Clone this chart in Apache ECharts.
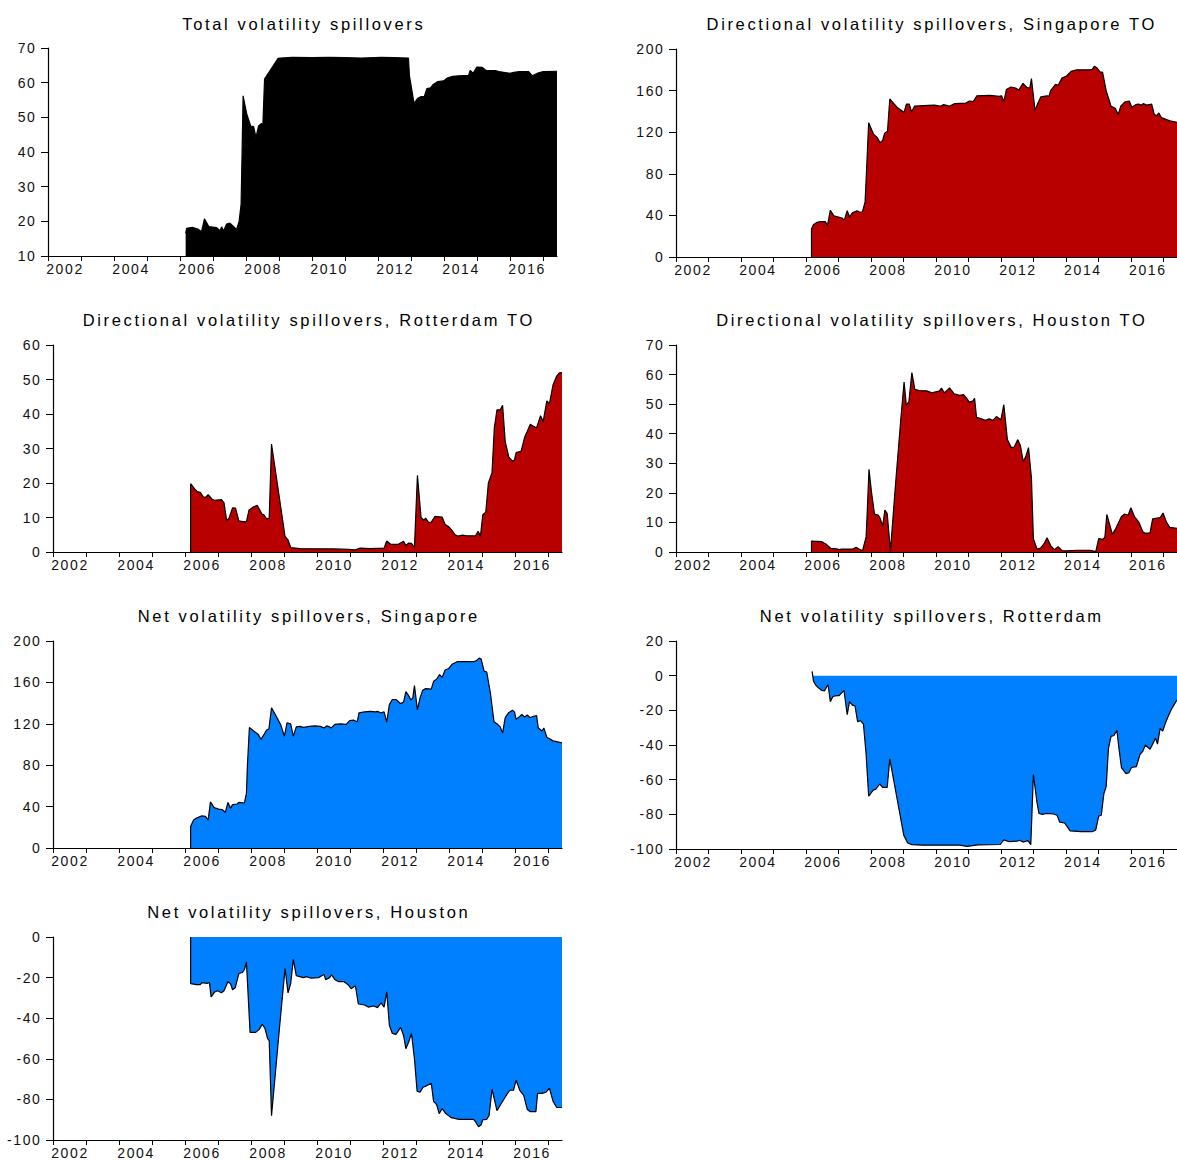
<!DOCTYPE html>
<html>
<head>
<meta charset="utf-8">
<script src="https://cdn.jsdelivr.net/npm/echarts@6/dist/echarts.min.js"></script>
<style>
html,body{margin:0;padding:0;background:#fff;}
#chart{width:1177px;height:1160px;}
</style>
</head>
<body>
<div id="chart"></div>
<script>
// ---------- tick labels ----------
const yearTicks = [2002,2003,2004,2005,2006,2007,2008,2009,2010,2011,2012,2013,2014,2015,2016,2017];
const yearLabels = [2002,2004,2006,2008,2010,2012,2014,2016];
const xStart = 2002;
const xEnd = 2017.42;

const titles = [
  'Total volatility spillovers',
  'Directional volatility spillovers, Singapore TO',
  'Directional volatility spillovers, Rotterdam TO',
  'Directional volatility spillovers, Houston TO',
  'Net volatility spillovers, Singapore',
  'Net volatility spillovers, Rotterdam',
  'Net volatility spillovers, Houston'
];

// ---------- series values: [year, value] ----------
const totalSpill = [
  [2006.17,16.5],[2006.2,18.0],[2006.37,18.3],[2006.54,17.8],[2006.65,17.0],[2006.74,20.7],[2006.87,18.5],
  [2007.1,18.2],[2007.21,17.3],[2007.26,18.4],[2007.32,17.2],[2007.41,19.2],[2007.51,19.5],[2007.62,18.5],
  [2007.71,17.6],[2007.79,20.0],[2007.85,25],[2007.88,40],[2007.91,56.2],[2008.02,51],[2008.14,47.5],
  [2008.23,47.3],[2008.3,44.2],[2008.38,47.5],[2008.46,48.2],[2008.51,48],[2008.56,61],[2008.97,67],
  [2009.05,67.1],[2009.39,67.3],[2010.0,67.2],[2010.5,67.3],[2011.0,67.2],[2011.5,67.1],[2012.08,67.3],
  [2012.5,67.2],[2012.92,67.1],[2012.95,62],[2013.09,54],[2013.2,55.5],[2013.31,56],[2013.4,56],
  [2013.48,58.3],[2013.59,58.5],[2013.67,59.5],[2013.81,60.3],[2013.98,60.5],[2014.09,61.3],[2014.26,61.8],
  [2014.43,62],[2014.74,62.1],[2014.79,63.5],[2014.88,62.7],[2014.99,64.5],[2015.16,64.4],[2015.27,63.5],
  [2015.55,63.5],[2015.66,63.2],[2016.0,62.7],[2016.11,63],[2016.28,63.2],[2016.56,63.2],[2016.67,62],
  [2016.84,62.8],[2017.0,63.2],[2017.42,63.3]
];

const singaporeTo = [
  [2006.17,0],[2006.17,27],[2006.23,31],[2006.32,33],[2006.43,34],[2006.6,34],[2006.66,30],[2006.75,45],
  [2006.86,39.5],[2007.0,38.5],[2007.11,37.5],[2007.18,35.5],[2007.27,44.5],[2007.34,38.5],[2007.43,42.5],
  [2007.57,44.5],[2007.66,43],[2007.74,43.5],[2007.82,53],[2007.86,80],[2007.93,129],[2008.08,118],
  [2008.19,115],[2008.28,110],[2008.36,112],[2008.42,119],[2008.51,121],[2008.58,152],[2008.8,144],
  [2009.02,139],[2009.09,147],[2009.18,147],[2009.25,139.5],[2009.34,145],[2009.61,145.5],[2009.95,146],
  [2010.13,145],[2010.24,146.5],[2010.41,145],[2010.58,147.5],[2010.92,148],[2011.03,150],[2011.15,149.5],
  [2011.26,155],[2011.66,155.5],[2011.94,154.5],[2012.02,155],[2012.09,149.5],[2012.17,161],[2012.31,163.5],
  [2012.45,162.5],[2012.55,160.5],[2012.68,167],[2012.8,163],[2012.89,162.5],[2012.94,171.5],[2013.05,141],
  [2013.14,148],[2013.23,154],[2013.42,155],[2013.48,154.5],[2013.53,160],[2013.68,166],[2013.76,165],
  [2013.88,172],[2014.02,174],[2014.16,178.5],[2014.33,180],[2014.73,180],[2014.81,180.5],[2014.88,183.5],
  [2014.95,182],[2015.05,178],[2015.13,177.5],[2015.24,160],[2015.39,145],[2015.52,143],[2015.61,137],
  [2015.69,145],[2015.81,149],[2015.95,150],[2016.03,144],[2016.15,146.5],[2016.23,147],[2016.32,146],
  [2016.38,147.5],[2016.49,146],[2016.64,147],[2016.72,137],[2016.8,136],[2016.86,138.5],[2016.94,134],
  [2017.2,131],[2017.42,129.5]
];

const rotterdamTo = [
  [2006.17,0],[2006.17,19.8],[2006.29,18.3],[2006.37,17.5],[2006.46,17.3],[2006.55,16],[2006.62,15.8],
  [2006.7,16.6],[2006.82,15.3],[2006.9,15],[2007.1,15.2],[2007.18,14.3],[2007.26,9.2],[2007.33,9.7],
  [2007.44,12.8],[2007.53,12.7],[2007.63,9],[2007.74,8.8],[2007.86,8.8],[2007.94,12.2],[2008.06,13],
  [2008.19,13.5],[2008.33,11],[2008.39,10.8],[2008.47,9.6],[2008.55,9.8],[2008.62,31.3],[2009.03,4.5],
  [2009.12,3.5],[2009.2,1.3],[2009.48,1.0],[2010.49,0.9],[2010.94,0.8],[2011.16,0.6],[2011.29,1.1],
  [2011.61,1.0],[2012.03,1.1],[2012.11,3.2],[2012.22,2.3],[2012.45,2.2],[2012.62,3.1],[2012.69,1.9],
  [2012.78,2.6],[2012.86,2.5],[2012.95,1.3],[2013.04,22.2],[2013.15,10],[2013.23,9.2],[2013.29,9.8],
  [2013.38,8.5],[2013.46,8.7],[2013.57,10.3],[2013.79,10.1],[2013.88,8],[2013.99,7.3],[2014.07,6.5],
  [2014.18,5],[2014.27,4.6],[2014.41,4.9],[2014.52,4.7],[2014.8,4.7],[2014.88,6],[2014.95,4.6],
  [2015.02,10.8],[2015.11,11.5],[2015.19,20],[2015.3,23],[2015.37,36],[2015.45,41.2],[2015.55,41.2],
  [2015.62,42.5],[2015.7,32],[2015.81,27.5],[2015.92,26.3],[2015.98,26.7],[2016.03,28.8],[2016.18,29.2],
  [2016.29,33.3],[2016.37,35],[2016.46,37],[2016.54,36.5],[2016.65,36],[2016.77,39.5],[2016.85,37.8],
  [2016.96,43.8],[2017.04,43],[2017.15,48.5],[2017.26,51],[2017.34,51.9],[2017.42,52]
];

const houstonTo = [
  [2006.17,0],[2006.17,3.7],[2006.49,3.5],[2006.6,2.8],[2006.77,1.2],[2006.94,1.1],[2007.02,0.8],
  [2007.11,1.0],[2007.45,1.0],[2007.54,1.6],[2007.62,1.1],[2007.74,0.4],[2007.85,5],[2007.88,12],
  [2007.94,28],[2008.02,20],[2008.11,12.8],[2008.22,12.5],[2008.28,11.5],[2008.36,8.7],[2008.43,14.2],
  [2008.5,13],[2008.6,0.3],[2008.75,22],[2008.92,45],[2009.02,57.5],[2009.09,49.5],[2009.17,51],
  [2009.26,60.7],[2009.35,55],[2009.49,54.6],[2009.71,54.5],[2009.88,53.8],[2010.11,54.5],[2010.17,55.4],
  [2010.26,53.8],[2010.42,55.5],[2010.56,53.5],[2010.73,53],[2010.85,53.2],[2010.96,51.8],[2011.02,50.7],
  [2011.13,51],[2011.19,52],[2011.25,45.5],[2011.41,45],[2011.52,44.5],[2011.64,45],[2011.75,44.5],
  [2011.86,45.8],[2012.0,44.7],[2012.09,49.8],[2012.2,38],[2012.32,35.3],[2012.41,35.5],[2012.52,38],
  [2012.6,36],[2012.69,30.5],[2012.77,32.5],[2012.85,35.3],[2012.94,25],[2013.0,4.5],[2013.11,1.0],
  [2013.22,1.3],[2013.34,3.0],[2013.42,4.8],[2013.54,2.0],[2013.65,0.8],[2013.76,1.8],[2013.88,0.5],
  [2014.01,0.4],[2014.35,0.6],[2014.75,0.6],[2014.92,0.1],[2015.01,4.5],[2015.14,4.3],[2015.2,5],
  [2015.26,12.7],[2015.43,6],[2015.54,8],[2015.71,12],[2015.8,12.8],[2015.92,12.5],[2016.0,15],
  [2016.11,12],[2016.25,10],[2016.37,6.8],[2016.45,6.3],[2016.59,6.5],[2016.67,11.2],[2016.9,11.6],
  [2016.99,13.2],[2017.1,10],[2017.2,8.3],[2017.42,8]
];

const netSingapore = [
  [2006.17,0],[2006.17,21],[2006.26,27],[2006.35,29],[2006.51,31],[2006.62,30.5],[2006.7,27],[2006.77,44.5],
  [2006.88,39],[2007.02,37.5],[2007.13,37],[2007.22,34.5],[2007.3,44],[2007.38,38.5],[2007.44,42],
  [2007.58,42.5],[2007.63,44],[2007.8,43.5],[2007.86,53],[2007.89,80],[2007.95,116.5],[2008.08,113],
  [2008.21,110],[2008.3,105],[2008.38,109],[2008.47,114],[2008.54,115],[2008.62,135.5],[2008.75,128],
  [2008.9,119],[2009.01,108],[2009.09,121],[2009.2,120],[2009.28,108],[2009.37,117],[2009.48,117.5],
  [2009.59,116.5],[2009.76,117.5],[2009.93,118],[2010.1,117.5],[2010.21,116],[2010.29,118],[2010.38,117],
  [2010.43,116],[2010.54,119.5],[2010.71,120],[2010.88,119.5],[2010.99,123],[2011.1,123.5],[2011.22,122],
  [2011.27,130.5],[2011.44,131.5],[2011.61,132],[2011.78,131.5],[2011.83,132],[2011.94,130.5],[2012.03,131.5],
  [2012.11,121.5],[2012.19,138.5],[2012.28,143.5],[2012.39,143.5],[2012.53,139.5],[2012.62,141],[2012.69,151],
  [2012.78,147],[2012.84,143],[2012.9,145],[2012.95,157],[2013.04,133.5],[2013.12,145],[2013.2,152.5],
  [2013.29,154],[2013.46,153.5],[2013.53,161],[2013.62,163],[2013.71,167.5],[2013.79,165],[2013.88,172],
  [2013.99,173.5],[2014.09,177.5],[2014.24,180],[2014.74,180],[2014.83,181],[2014.91,183.5],[2014.97,182.5],
  [2015.06,171],[2015.14,170],[2015.25,150],[2015.36,122],[2015.47,119.5],[2015.55,117],[2015.62,111],
  [2015.7,126],[2015.81,131],[2015.92,133],[2015.98,131.5],[2016.03,124.5],[2016.12,126.5],[2016.2,129],
  [2016.29,126.5],[2016.37,128.5],[2016.45,126],[2016.54,127],[2016.65,128],[2016.7,116],[2016.82,113],
  [2016.87,116],[2016.96,107],[2017.15,103.5],[2017.42,101.5]
];

const netRotterdam = [
  [2006.19,2.5],[2006.23,-3],[2006.3,-5.5],[2006.38,-7],[2006.49,-8.5],[2006.57,-8.8],[2006.68,-5],
  [2006.75,-15],[2006.83,-12],[2006.94,-11.5],[2007.02,-11.5],[2007.17,-8.5],[2007.27,-22.5],[2007.34,-15],
  [2007.43,-17],[2007.51,-17.5],[2007.59,-26.5],[2007.68,-26],[2007.77,-28],[2007.85,-45],[2007.93,-69.5],
  [2008.07,-66],[2008.15,-65.5],[2008.27,-62.5],[2008.36,-64.5],[2008.5,-64.5],[2008.58,-48],[2009.01,-92],
  [2009.13,-96.5],[2009.26,-97.5],[2009.6,-97.8],[2010.73,-97.8],[2010.96,-98.5],[2011.3,-97.6],
  [2011.98,-97.4],[2012.09,-94.7],[2012.26,-95.8],[2012.49,-95.5],[2012.58,-95],[2012.68,-96],
  [2012.83,-95.2],[2012.92,-97.5],[2013.0,-57],[2013.11,-73],[2013.17,-79.5],[2013.28,-80],[2013.4,-79.5],
  [2013.62,-79.8],[2013.73,-80.5],[2013.81,-84.5],[2013.96,-85],[2014.13,-89.5],[2014.47,-90],[2014.81,-90],
  [2014.92,-89],[2015.01,-81],[2015.09,-80.5],[2015.17,-68],[2015.24,-64],[2015.31,-42],[2015.39,-35],
  [2015.48,-34.5],[2015.57,-31.5],[2015.62,-40],[2015.71,-53],[2015.85,-56.5],[2015.94,-56],[2016.02,-53],
  [2016.17,-52.5],[2016.28,-45.5],[2016.37,-43.5],[2016.45,-40],[2016.59,-42.5],[2016.67,-39.5],
  [2016.76,-36],[2016.82,-39.5],[2016.9,-30.5],[2016.98,-32],[2017.07,-27],[2017.16,-23],[2017.26,-19],[2017.42,-14]
];

const netHouston = [
  [2006.17,0],[2006.17,-23],[2006.35,-23.5],[2006.46,-23.5],[2006.51,-22.5],[2006.68,-22.8],[2006.74,-22.5],
  [2006.79,-29.5],[2006.9,-27],[2006.99,-26.5],[2007.1,-27.5],[2007.18,-26.5],[2007.3,-22],[2007.38,-23],
  [2007.44,-26],[2007.52,-25],[2007.63,-18],[2007.74,-17.5],[2007.8,-16],[2007.86,-12.3],[2007.97,-47],
  [2008.14,-47],[2008.25,-45.5],[2008.34,-43],[2008.42,-45],[2008.5,-50],[2008.55,-51],[2008.62,-88],
  [2008.86,-45],[2009.03,-15.5],[2009.12,-27.5],[2009.2,-23],[2009.28,-11],[2009.37,-19],[2009.48,-19.5],
  [2009.59,-20],[2009.68,-19.5],[2009.82,-20.3],[2010.04,-20],[2010.21,-18.5],[2010.26,-21],[2010.38,-20],
  [2010.44,-18.5],[2010.54,-21],[2010.66,-22],[2010.82,-22],[2010.94,-23.5],[2011.03,-25.5],[2011.16,-24],
  [2011.25,-33],[2011.44,-33.5],[2011.55,-34.5],[2011.72,-34],[2011.83,-34.8],[2011.94,-32.5],[2012.03,-34.5],
  [2012.11,-27],[2012.19,-43.5],[2012.28,-47.5],[2012.39,-48],[2012.53,-44.5],[2012.62,-48.5],[2012.69,-55],
  [2012.78,-51.5],[2012.86,-47.5],[2012.95,-60],[2013.03,-76],[2013.12,-76.5],[2013.21,-74],[2013.29,-73.5],
  [2013.46,-72],[2013.53,-81],[2013.62,-82.5],[2013.7,-87],[2013.79,-84.5],[2013.9,-87],[2014.07,-89],
  [2014.3,-89.8],[2014.74,-89.8],[2014.8,-91],[2014.89,-93.5],[2014.97,-92.5],[2015.02,-90],[2015.14,-89.8],
  [2015.21,-88],[2015.3,-75],[2015.45,-85.5],[2015.58,-82],[2015.75,-77.5],[2015.84,-75.5],[2015.95,-75.5],
  [2016.03,-70.5],[2016.14,-75.5],[2016.26,-78],[2016.37,-85],[2016.45,-86],[2016.63,-86],[2016.68,-77],
  [2016.82,-77],[2016.93,-76.5],[2017.04,-74.5],[2017.15,-81],[2017.26,-84],[2017.42,-84]
];

// ---------- layout / style ----------
const BLACK = '#000000', RED = '#B80000', BLUE = '#0080FF';
const FONT = "'Liberation Sans', Arial, Helvetica, sans-serif";
const PW = 509;

const panels = [
  {title: titles[0], data: totalSpill,   color: BLACK, yMin: 10,   yMax: 70,  yStep: 10, left: 48,  top: 48,  height: 208, ty: 24},
  {title: titles[1], data: singaporeTo,  color: RED,   yMin: 0,    yMax: 200, yStep: 40, left: 676, top: 49,  height: 208, ty: 24},
  {title: titles[2], data: rotterdamTo,  color: RED,   yMin: 0,    yMax: 60,  yStep: 10, left: 53,  top: 345, height: 207, ty: 320},
  {title: titles[3], data: houstonTo,    color: RED,   yMin: 0,    yMax: 70,  yStep: 10, left: 676, top: 345, height: 207, ty: 320},
  {title: titles[4], data: netSingapore, color: BLUE,  yMin: 0,    yMax: 200, yStep: 40, left: 53,  top: 641, height: 207, ty: 616},
  {title: titles[5], data: netRotterdam, color: BLUE,  yMin: -100, yMax: 20,  yStep: 20, left: 676, top: 641, height: 208, ty: 616},
  {title: titles[6], data: netHouston,   color: BLUE,  yMin: -100, yMax: 0,   yStep: 20, left: 53,  top: 937, height: 207, ty: 912}
];

const option = {
  backgroundColor: '#ffffff',
  animation: false,
  title: [], grid: [], xAxis: [], yAxis: [], series: []
};

panels.forEach((p, i) => {
  option.title.push({
    text: p.title,
    left: p.left + PW / 2 + 1.3,
    top: p.ty,
    textAlign: 'center',
    textVerticalAlign: 'middle',
    padding: 0,
    textStyle: {fontFamily: FONT, fontSize: 16.5, fontWeight: 'normal', color: '#000'}
  });
  option.grid.push({left: p.left, top: p.top, width: PW, height: p.height, containLabel: false});
  option.xAxis.push({
    type: 'value', gridIndex: i,
    min: xStart, max: xEnd, interval: 1,
    axisLine: {show: true, onZero: false, lineStyle: {color: '#000', width: 1.2}},
    axisTick: {show: true, inside: false, length: 5, customValues: yearTicks, lineStyle: {color: '#000', width: 1}},
    axisLabel: {
      show: true, customValues: yearLabels, margin: 6,
      padding: [0, 0, 0, 34],
      fontFamily: FONT, fontSize: 14, color: '#111',
      formatter: v => (Number.isInteger(v) && v % 2 === 0) ? String(v) : ''
    },
    splitLine: {show: false}
  });
  option.yAxis.push({
    type: 'value', gridIndex: i,
    min: p.yMin, max: p.yMax, interval: p.yStep,
    axisLine: {show: true, onZero: false, lineStyle: {color: '#000', width: 1.2}},
    axisTick: {show: true, inside: false, length: 7, lineStyle: {color: '#000', width: 1}},
    axisLabel: {show: true, margin: 11.5, fontFamily: FONT, fontSize: 14, color: '#111'},
    splitLine: {show: false}
  });
  option.series.push({
    type: 'line', xAxisIndex: i, yAxisIndex: i,
    data: p.data,
    showSymbol: false, symbol: 'none',
    lineStyle: {color: '#000', width: 1.2},
    areaStyle: {color: p.color, opacity: 1, origin: 'auto'},
    emphasis: {disabled: true},
    silent: true
  });
});

const chart = echarts.init(document.getElementById('chart'), null, {renderer: 'svg'});
function spaceText() {
  document.querySelectorAll('#chart text').forEach(t => {
    const s = (t.textContent || '').trim();
    t.style.letterSpacing = s.length > 6 ? '2.65px' : '1.6px';
  });
}
chart.on('finished', spaceText);
chart.setOption(option);
spaceText();
</script>
</body>
</html>
